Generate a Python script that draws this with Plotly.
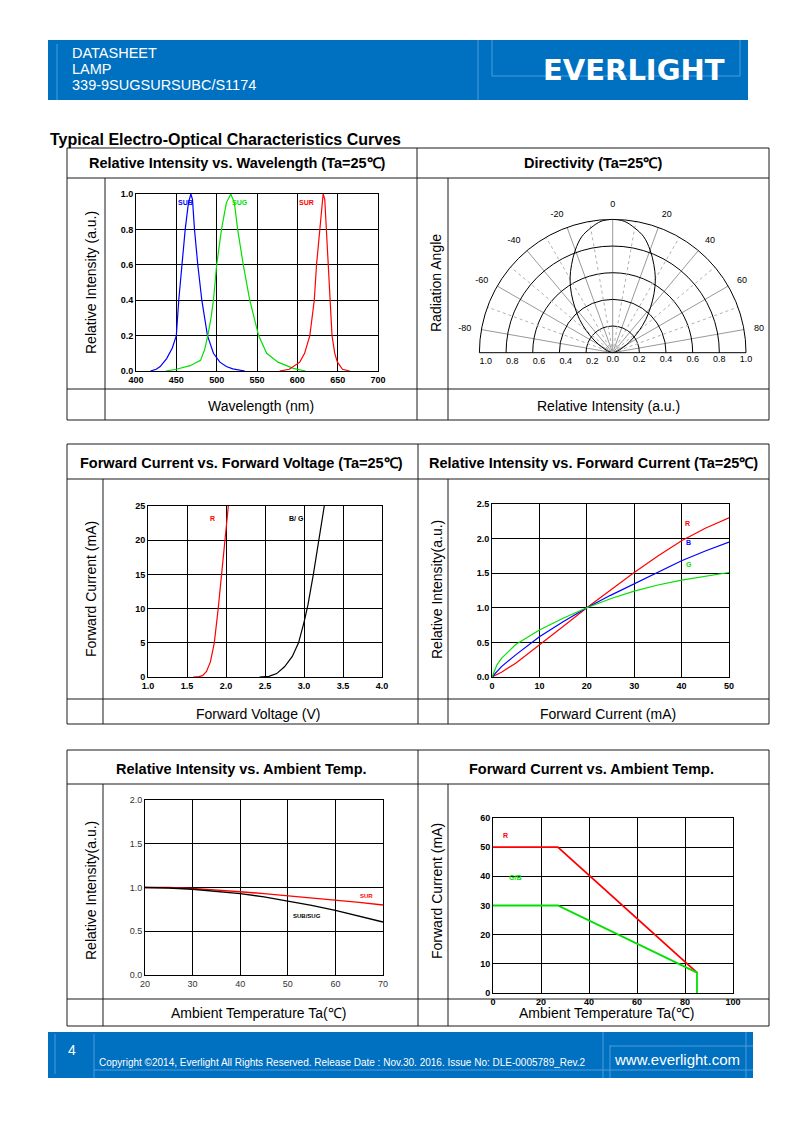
import plotly.graph_objects as go

# The page body has an 8px margin, so the figure is placed at (8, 8).
OFF = 8
W, H = 794 - 2 * OFF, 1123 - 2 * OFF
def fx(x): return (x - OFF) / W
def fy(y): return 1 - (y - OFF) / H

FONT = "Liberation Sans, Arial, sans-serif"
BLUE_BAND = "#0070C0"

# ---------------- data ----------------
# Relative intensity vs wavelength
sub_wl = [418, 425, 430, 438, 445, 450, 453, 457, 461, 465, 468, 470, 472.5, 476.6, 481.6, 488.6, 496, 504, 512, 520, 528, 535]
sub_val = [0, 0.01, 0.025, 0.07, 0.13, 0.2, 0.4, 0.6, 0.8, 0.95, 1.0, 0.97, 0.8, 0.6, 0.4, 0.2, 0.1, 0.05, 0.025, 0.012, 0.004, 0]
sug_wl = [437, 450, 467, 480, 485, 489, 493, 496, 500, 506, 512, 517.5, 522, 526, 533, 541, 552, 562, 576, 595, 610]
sug_val = [0, 0.01, 0.03, 0.06, 0.12, 0.2, 0.3, 0.4, 0.6, 0.8, 0.95, 1.0, 0.95, 0.8, 0.6, 0.4, 0.2, 0.1, 0.05, 0.015, 0]
sur_wl = [578, 590, 603, 609, 615.5, 621, 623.8, 628, 632, 634, 636, 638, 640, 643, 646.4, 649.7, 656, 665]
sur_val = [0, 0.01, 0.05, 0.1, 0.2, 0.4, 0.6, 0.8, 1.0, 0.97, 0.8, 0.6, 0.4, 0.2, 0.1, 0.05, 0.01, 0]

# Directivity
dir_angle = [-90, -85, -80, -75, -70, -65, -60, -55, -50, -45, -40, -35, -30, -25, -20, -15, -10, -5,
             0, 5, 10, 15, 20, 25, 30, 35, 40, 45, 50, 55, 60, 65, 70, 75, 80, 85, 90]
dir_val = [0, 0.003, 0.01, 0.02, 0.04, 0.07, 0.12, 0.18, 0.26, 0.35, 0.44, 0.54, 0.64, 0.73, 0.82, 0.9, 0.95, 0.99,
           1.0, 0.99, 0.95, 0.9, 0.82, 0.73, 0.64, 0.54, 0.44, 0.35, 0.26, 0.18, 0.12, 0.07, 0.04, 0.02, 0.01, 0.003, 0]
angle_ticks = [0, 20, 40, 60, 80, -80, -60, -40, -20]
angle_labels = ["0", "20", "40", "60", "80", "-80", "-60", "-40", "-20"]
dotted_spokes = [-70, -50, -30, -10, 10, 30, 50, 70]
radial_ticks = [0, 0.2, 0.4, 0.6, 0.8, 1.0]

# Forward current vs forward voltage
r_v = [1.58, 1.65, 1.7, 1.75, 1.8, 1.85, 1.9, 1.95, 2.0, 2.03]
r_i = [0, 0.05, 0.2, 0.8, 2.2, 5, 10, 15.5, 21, 25]
bg_v = [2.43, 2.55, 2.65, 2.75, 2.85, 2.93, 3.0, 3.05, 3.12, 3.19, 3.26]
bg_i = [0, 0.1, 0.5, 1.5, 3, 5, 8, 10.5, 15, 20, 25]

# Relative intensity vs forward current
if_ma = [0, 1, 2, 5, 10, 15, 20, 25, 30, 35, 40, 45, 50]
ir_r = [0, 0.03, 0.07, 0.2, 0.46, 0.73, 1.0, 1.26, 1.51, 1.75, 1.97, 2.15, 2.3]
ir_b = [0, 0.08, 0.15, 0.32, 0.58, 0.8, 1.0, 1.18, 1.35, 1.52, 1.68, 1.82, 1.95]
ir_g = [0, 0.17, 0.27, 0.47, 0.68, 0.85, 1.0, 1.13, 1.24, 1.33, 1.40, 1.46, 1.51]

# Relative intensity vs ambient temp
ta = [20, 25, 30, 35, 40, 45, 50, 55, 60, 65, 70]
sur_t = [1.0, 1.0, 0.99, 0.975, 0.952, 0.93, 0.906, 0.882, 0.857, 0.83, 0.8]
sub_t = [1.0, 0.995, 0.98, 0.958, 0.93, 0.893, 0.848, 0.796, 0.738, 0.672, 0.605]

# Forward current vs ambient temp
r_ta = [0, 27, 85]
r_if = [50, 50, 7]
gb_ta = [0, 27, 85, 85]
gb_if = [30, 30, 7, 0]

# ---------------- figure ----------------
fig = go.Figure()

def line_trace(x, y, color, xa, ya, width=1.2):
    fig.add_trace(go.Scatter(x=x, y=y, mode="lines", line=dict(color=color, width=width),
                             xaxis=xa, yaxis=ya, hoverinfo="skip", showlegend=False))

line_trace(sub_wl, sub_val, "#0000FF", "x", "y")
line_trace(sug_wl, sug_val, "#00E000", "x", "y")
line_trace(sur_wl, sur_val, "#FF0000", "x", "y")

line_trace(r_v, r_i, "#FF0000", "x2", "y2")
line_trace(bg_v, bg_i, "#000000", "x2", "y2")

line_trace(if_ma, ir_r, "#FF0000", "x3", "y3")
line_trace(if_ma, ir_b, "#0000FF", "x3", "y3")
line_trace(if_ma, ir_g, "#00E000", "x3", "y3")

line_trace(ta, sur_t, "#FF0000", "x4", "y4", 1.4)
line_trace(ta, sub_t, "#000000", "x4", "y4", 1.4)

line_trace(r_ta, r_if, "#FF0000", "x5", "y5", 1.8)
line_trace(gb_ta, gb_if, "#00E000", "x5", "y5", 1.8)

# polar
for a in dotted_spokes:
    fig.add_trace(go.Scatterpolar(r=[0, 1], theta=[a, a], mode="lines",
                                  line=dict(color="#B0B0B0", width=1, dash="dot"),
                                  subplot="polar", hoverinfo="skip", showlegend=False))
fig.add_trace(go.Scatterpolar(r=dir_val, theta=dir_angle, mode="lines",
                              line=dict(color="#000000", width=1, shape="spline"),
                              subplot="polar", hoverinfo="skip", showlegend=False))
fig.add_trace(go.Scatterpolar(r=[0], theta=[0], mode="lines", line=dict(width=0),
                              subplot="polar2", hoverinfo="skip", showlegend=False))

def xaxis(dom, rng, tv, anchor, fmt=None, bold=True, color="#000000"):
    return dict(domain=[fx(dom[0]), fx(dom[1])], range=rng, tickvals=tv, tickformat=fmt,
                showgrid=True, gridcolor="#000000", gridwidth=1, showline=True,
                linecolor="#000000", linewidth=1, mirror=True, zeroline=False, ticks="",
                tickfont=dict(family=FONT, size=9, color=color, weight="bold" if bold else "normal"),
                anchor=anchor, fixedrange=True)

def yaxis(dom, rng, tv, anchor, fmt=None, bold=True, color="#000000"):
    d = xaxis((OFF, OFF + 1), rng, tv, anchor, fmt, bold, color)
    d["domain"] = [fy(dom[1]), fy(dom[0])]
    return d

fig.update_layout(
    width=W, height=H, margin=dict(l=0, r=0, t=0, b=0, pad=0, autoexpand=False),
    paper_bgcolor="white", plot_bgcolor="white", showlegend=False,
    xaxis=xaxis((136, 378), [400, 700], [400, 450, 500, 550, 600, 650, 700], "y"),
    yaxis=yaxis((194, 371), [0, 1], [0, 0.2, 0.4, 0.6, 0.8, 1.0], "x", ".1f"),
    xaxis2=xaxis((148, 382), [1, 4], [1, 1.5, 2, 2.5, 3, 3.5, 4], "y2", ".1f"),
    yaxis2=yaxis((506, 677), [0, 25], [0, 5, 10, 15, 20, 25], "x2"),
    xaxis3=xaxis((492, 729), [0, 50], [0, 10, 20, 30, 40, 50], "y3"),
    yaxis3=yaxis((504, 677), [0, 2.5], [0, 0.5, 1, 1.5, 2, 2.5], "x3", ".1f"),
    xaxis4=xaxis((145, 383), [20, 70], [20, 30, 40, 50, 60, 70], "y4", None, False, "#333333"),
    yaxis4=yaxis((800, 975), [0, 2], [0, 0.5, 1, 1.5, 2], "x4", ".1f", False, "#333333"),
    xaxis5=xaxis((493, 733), [0, 100], [0, 20, 40, 60, 80, 100], "y5"),
    yaxis5=yaxis((818, 993), [0, 60], [0, 10, 20, 30, 40, 50, 60], "x5"),
    polar=dict(
        domain=dict(x=[fx(479.4), fx(746.0)], y=[fy(352.7), fy(219.4)]),
        sector=[0, 180], bgcolor="rgba(0,0,0,0)",
        angularaxis=dict(rotation=90, direction="clockwise", tickmode="array",
                         tickvals=angle_ticks, ticktext=angle_labels,
                         showgrid=True, gridcolor="#999999", gridwidth=1,
                         showline=True, linecolor="#000000", linewidth=1,
                         ticks="outside", ticklen=8, tickcolor="rgba(0,0,0,0)",
                         tickfont=dict(family=FONT, size=9, color="#000000")),
        radialaxis=dict(range=[0, 1], angle=0, side="clockwise", tickmode="array",
                        tickvals=radial_ticks, ticktext=["%.1f" % v for v in radial_ticks],
                        showgrid=True, gridcolor="#000000", gridwidth=1, showline=False,
                        ticks="", tickfont=dict(family=FONT, size=9, color="#000000")),
    ),
    polar2=dict(
        domain=dict(x=[fx(479.4), fx(746.0)], y=[fy(352.7), fy(219.4)]),
        sector=[0, 180], bgcolor="rgba(0,0,0,0)",
        angularaxis=dict(visible=False, rotation=90, direction="clockwise"),
        radialaxis=dict(range=[0, 1], angle=180, side="counterclockwise", tickmode="array",
                        tickangle=180,
                        tickvals=radial_ticks[1:], ticktext=["%.1f" % v for v in radial_ticks[1:]],
                        showgrid=False, showline=False, ticks="",
                        tickfont=dict(family=FONT, size=9, color="#000000")),
    ),
)

shapes = []
def ln(x0, y0, x1, y1, color="#1A1A1A", width=1):
    shapes.append(dict(type="line", xref="paper", yref="paper",
                       x0=fx(x0), y0=fy(y0), x1=fx(x1), y1=fy(y1),
                       line=dict(color=color, width=width)))

def rect(x0, y0, x1, y1, fill):
    shapes.append(dict(type="rect", xref="paper", yref="paper",
                       x0=fx(x0), y0=fy(y1), x1=fx(x1), y1=fy(y0),
                       fillcolor=fill, line=dict(width=0), layer="below"))

# header / footer bands
rect(48, 40, 748, 100, BLUE_BAND)
rect(48, 1032, 753, 1078, BLUE_BAND)
LB = "#4C9BDB"
for args in [(57, 44, 57, 100), (478, 40, 478, 100), (492, 40, 492, 76), (492, 76, 740, 76), (740, 40, 740, 76),
             (55, 1034, 55, 1074), (94, 1034, 94, 1078), (94, 1070, 603, 1070), (603, 1032, 603, 1078),
             (610, 1045, 610, 1078), (610, 1046, 753, 1046), (603, 1070, 753, 1070), (746, 1032, 746, 1078)]:
    ln(*args, color=LB, width=1)

# tables
def table(top, sep, pb, bot, c1, c2, c3):
    for y in (top, sep, pb, bot):
        ln(67, y, 769, y)
    for x in (67, c2, 769):
        ln(x, top, x, bot)
    for x in (c1, c3):
        ln(x, sep, x, bot)

table(148, 178, 389, 420, 105, 417, 448)
table(444, 479, 699, 724, 103, 418, 448)
table(750, 784, 999, 1026, 103, 418, 448)

annotations = []
def txt(x, y, s, size=14, color="#000000", bold=False, anchor="center", angle=0, family=FONT):
    annotations.append(dict(x=fx(x), y=fy(y), xref="paper", yref="paper", text=s, showarrow=False,
                            xanchor=anchor, yanchor="middle", textangle=angle,
                            font=dict(family=family, size=size, color=color,
                                      weight="bold" if bold else "normal")))

def dtxt(x, y, s, xr, yr, color, size=7):
    annotations.append(dict(x=x, y=y, xref=xr, yref=yr, text=s, showarrow=False,
                            xanchor="center", yanchor="middle",
                            font=dict(family=FONT, size=size, color=color, weight="bold")))

# header texts
txt(70, 53, "DATASHEET", 14.5, "white", anchor="left")
txt(70, 69, "LAMP", 14.5, "white", anchor="left")
txt(70, 85, "339-9SUGSURSUBC/S1174", 14.5, "white", anchor="left")
txt(634, 70, "EVERLIGHT", 29, "white", bold=True, family="DejaVu Sans, sans-serif")

txt(48, 140, "Typical Electro-Optical Characteristics Curves", 16, bold=True, anchor="left")

# table titles
TS = 14.5
txt(238, 163, "Relative Intensity vs. Wavelength (Ta=25℃)", TS, bold=True)
txt(593, 163, "Directivity (Ta=25℃)", TS, bold=True)
txt(241, 463, "Forward Current vs. Forward Voltage (Ta=25℃)", TS, bold=True)
txt(593, 463, "Relative Intensity vs. Forward Current (Ta=25℃)", TS, bold=True)
txt(242, 769, "Relative Intensity vs. Ambient Temp.", TS, bold=True)
txt(591, 769, "Forward Current vs. Ambient Temp.", TS, bold=True)

# axis titles
txt(261, 406, "Wavelength (nm)", 14)
txt(608, 406, "Relative Intensity (a.u.)", 14)
txt(258, 714, "Forward Voltage (V)", 14)
txt(608, 714, "Forward Current (mA)", 14)
txt(258, 1013, "Ambient Temperature Ta(℃)", 14)
txt(606, 1013, "Ambient Temperature Ta(℃)", 14)

txt(91, 283, "Relative Intensity (a.u.)", 14, angle=-90)
txt(436, 283, "Radiation Angle", 14, angle=-90)
txt(91, 589, "Forward Current (mA)", 14, angle=-90)
txt(437, 589, "Relative Intensity(a.u.)", 14, angle=-90)
txt(91, 891, "Relative Intensity(a.u.)", 14, angle=-90)
txt(437, 891, "Forward Current (mA)", 14, angle=-90)

# series labels
dtxt(461, 0.95, "SUB", "x", "y", "#0000FF")
dtxt(529, 0.95, "SUG", "x", "y", "#00E000")
dtxt(611, 0.95, "SUR", "x", "y", "#FF0000")
dtxt(1.83, 23.2, "R", "x2", "y2", "#FF0000")
dtxt(2.9, 23.2, "B/ G", "x2", "y2", "#000000")
dtxt(41.2, 2.22, "R", "x3", "y3", "#FF0000")
dtxt(41.5, 1.94, "B", "x3", "y3", "#0000FF")
dtxt(41.5, 1.63, "G", "x3", "y3", "#00E000")
dtxt(66.5, 0.9, "SUR", "x4", "y4", "#FF0000", 6)
dtxt(54, 0.67, "SUB/SUG", "x4", "y4", "#000000", 6)
dtxt(5, 54, "R", "x5", "y5", "#FF0000")
dtxt(9, 39.5, "G/B", "x5", "y5", "#00E000")

# footer
txt(72, 1050, "4", 14, "white", anchor="center")
txt(97, 1062, "Copyright ©2014, Everlight All Rights Reserved. Release Date : Nov.30. 2016. Issue No: DLE-0005789_Rev.2",
    10, "white", anchor="left")
txt(677, 1059, "www.everlight.com", 15, "white")

fig.update_layout(shapes=shapes, annotations=annotations)
fig.write_html("out.html")
